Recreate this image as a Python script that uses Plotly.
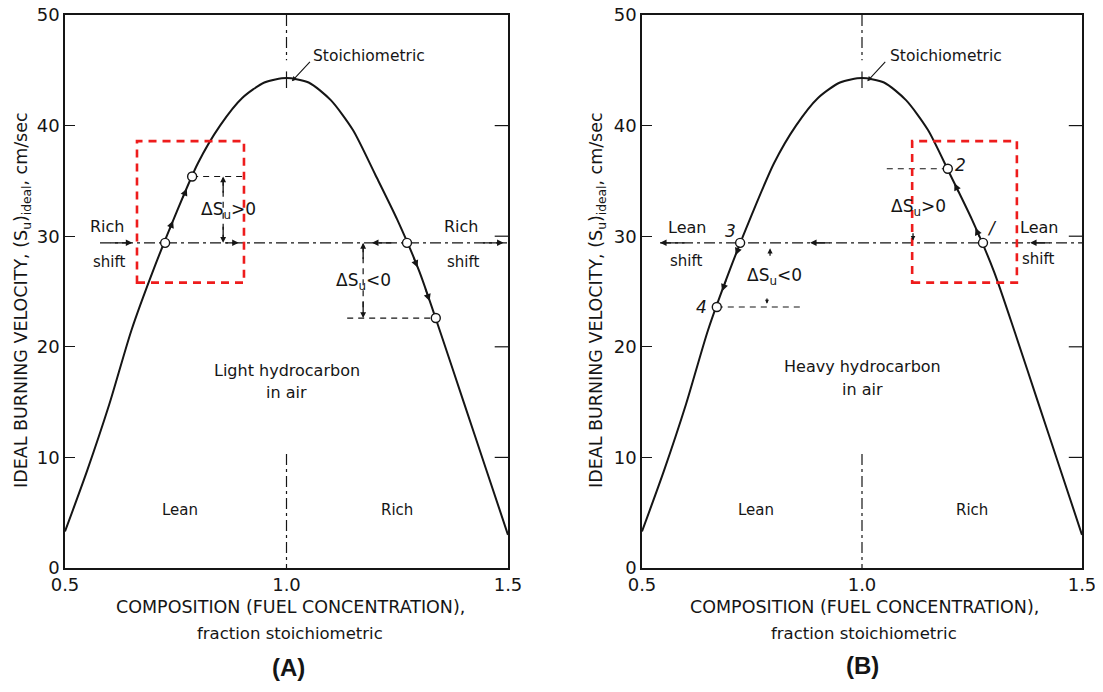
import numpy as np
import plotly.graph_objects as go

# ---------------- data ----------------
comp = [0.50, 0.55, 0.60, 0.65, 0.70, 0.75, 0.80, 0.85, 0.90, 0.95, 1.00,
        1.05, 1.10, 1.15, 1.20, 1.25, 1.30, 1.35, 1.40, 1.45, 1.50]
su_ideal = [3.3, 8.8, 14.8, 21.5, 27.0, 32.0, 36.6, 40.0, 42.5, 43.9, 44.3,
            43.9, 42.3, 39.6, 35.6, 31.5, 26.8, 21.0, 15.0, 9.0, 3.0]

y_ticks = [0, 10, 20, 30, 40, 50]
x_ticks = [0.5, 1.0, 1.5]
x_ticktext = ["0.5", "1.0", "1.5"]

shift_level = 29.4

# panel A states
ptsA_x = [0.726, 0.787, 1.272, 1.337]
ptsA_y = [29.4, 35.4, 29.4, 22.6]
# panel B states 1..4
ptsB_x = [1.275, 1.195, 0.723, 0.670]
ptsB_y = [29.4, 36.1, 29.4, 23.6]
ptsB_lbl = ["/", "2", "3", "4"]

boxA = [0.6625, 0.904, 25.8, 38.6]
boxB = [1.114, 1.352, 25.8, 38.6]

# ---------------- figure ----------------
OFF = 8                      # page body margin
FW, FH = 1103 - 2 * OFF, 692 - 2 * OFF


def px(p):
    return (p - OFF) / FW


def py(p):
    return 1 - (p - OFF) / FH


domA = [px(65), px(508)]
domB = [px(642), px(1082)]
domY = [py(568), py(15)]

BLK = "#151515"
FONT = "DejaVu Sans, Liberation Sans, sans-serif"
BOLD = "Liberation Sans, Arial, sans-serif"
DASHDOT = "11px,4px,3px,4px"
DASH = "6px,5px"

fig = go.Figure()
ann = []
shapes = []


def line(xs, ys, ax, dash="solid", width=1.4, color=BLK, spline=False):
    ln = dict(color=color, width=width, dash=dash)
    if spline:
        ln.update(shape="spline", smoothing=0.7)
    fig.add_trace(go.Scatter(x=xs, y=ys, mode="lines", xaxis=ax[0], yaxis=ax[1],
                             line=ln, hoverinfo="skip", showlegend=False))


def arrow(x, y, tx, ty, ax, size=1.0, width=1.3):
    ann.append(dict(x=x, y=y, ax=tx, ay=ty, xref=ax[0], yref=ax[1],
                    axref=ax[0], ayref=ax[1], showarrow=True, arrowhead=2,
                    arrowsize=size, arrowwidth=width, arrowcolor=BLK, text=""))


def text(x, y, s, ax, size=15, **kw):
    d = dict(x=x, y=y, xref=ax[0], yref=ax[1], text=s, showarrow=False,
             xanchor="center", yanchor="middle",
             font=dict(family=FONT, size=size, color=BLK))
    d.update(kw)
    ann.append(d)


def ptext(xp, yp, s, size, family=FONT, **kw):
    d = dict(x=px(xp), y=py(yp), xref="paper", yref="paper", text=s, showarrow=False,
             xanchor="center", yanchor="middle", font=dict(family=family, size=size, color=BLK))
    d.update(kw)
    ann.append(d)


def along(x0, x1):
    """arrow point on curve at x1 with tail at x0 (both on the curve)"""
    return x1, float(np.interp(x1, comp, su_ideal)), x0, float(np.interp(x0, comp, su_ideal))


for axes in [("x", "y"), ("x2", "y2")]:
    line(comp, su_ideal, axes, width=2.0, spline=True)
    line([1.0, 1.0], [50, 45.9], axes, dash=DASHDOT, width=1.2)
    line([1.0, 1.0], [44.9, 43.4], axes, width=1.2)
    line([1.0, 1.0], [10.3, 0], axes, dash=DASHDOT, width=1.2)
    for v in y_ticks[1:-1]:
        shapes.append(dict(type="line", xref=axes[0] + " domain", yref=axes[1],
                           x0=0.97, x1=1.0, y0=v, y1=v, line=dict(color=BLK, width=1.2)))
    text(1.0 + (0.187 if axes[0] == "x" else 0.192), 46.3, "Stoichiometric", axes, size=15.5)
    ann.append(dict(x=1.012, y=44.0, ax=1.056, ay=45.9, xref=axes[0], yref=axes[1],
                    axref=axes[0], ayref=axes[1], showarrow=True, arrowhead=2,
                    arrowsize=0.9, arrowwidth=1.1, arrowcolor=BLK, text=""))
    text(0.76, 5.2, "Lean", axes, size=15)
    text(1.25, 5.2, "Rich", axes, size=15)

axA = ("x", "y")
axB = ("x2", "y2")

# ---------- Panel A ----------
line([0.579, 1.5], [shift_level, shift_level], axA, dash=DASHDOT, width=1.4)
arrow(0.652, shift_level, 0.60, shift_level, axA)
arrow(0.892, shift_level, 0.86, shift_level, axA)
arrow(1.193, shift_level, 1.24, shift_level, axA)
arrow(1.49, shift_level, 1.44, shift_level, axA)
# delta S > 0
line([ptsA_x[1], 0.90], [ptsA_y[1], ptsA_y[1]], axA, dash=DASH, width=1.2)
line([0.857, 0.857], [ptsA_y[1] - 0.3, shift_level + 0.3], axA, dash=DASH, width=1.2)
arrow(0.857, ptsA_y[1], 0.857, ptsA_y[1] - 1.6, axA, size=0.9)
arrow(0.857, shift_level, 0.857, shift_level + 1.6, axA, size=0.9)
text(0.868, 32.3, "ΔS<sub>u</sub>>0", axA, size=17)
# delta S < 0
line([1.137, ptsA_x[3]], [ptsA_y[3], ptsA_y[3]], axA, dash=DASH, width=1.2)
line([1.173, 1.173], [shift_level - 0.3, ptsA_y[3] + 0.3], axA, dash=DASH, width=1.2)
arrow(1.173, shift_level, 1.173, shift_level - 1.6, axA, size=0.9)
arrow(1.173, ptsA_y[3], 1.173, ptsA_y[3] + 1.6, axA, size=0.9)
text(1.173, 25.9, "ΔS<sub>u</sub><0", axA, size=17)
for a, b in [(0.735, 0.744), (0.765, 0.775), (1.285, 1.296), (1.312, 1.323)]:
    x1, y1, x0, y0 = along(a, b)
    arrow(x1, y1, x0, y0, axA, size=1.1)
text(0.597, 30.9, "Rich", axA, size=16)
text(0.600, 27.7, "shift", axA, size=15)
text(1.396, 30.9, "Rich", axA, size=16)
text(1.400, 27.7, "shift", axA, size=15)
text(1.0, 17.9, "Light hydrocarbon", axA, size=16)
text(1.0, 15.9, "in air", axA, size=16)

# ---------- Panel B ----------
line([0.541, 1.5], [shift_level, shift_level], axB, dash=DASHDOT, width=1.4)
arrow(0.541, shift_level, 0.60, shift_level, axB)
arrow(0.882, shift_level, 0.93, shift_level, axB)
arrow(1.382, shift_level, 1.43, shift_level, axB)
line([ptsB_x[1], 1.045], [ptsB_y[1], ptsB_y[1]], axB, dash=DASH, width=1.2)
line([ptsB_x[3], 0.866], [ptsB_y[3], ptsB_y[3]], axB, dash=DASH, width=1.2)
arrow(0.791, shift_level - 0.5, 0.791, shift_level - 1.3, axB, size=0.8)
arrow(0.784, ptsB_y[3] + 0.3, 0.784, ptsB_y[3] + 0.9, axB, size=0.6)
arrow(1.116, shift_level + 0.2, 1.116, shift_level + 1.0, axB, size=0.7)
text(1.128, 32.6, "ΔS<sub>u</sub>>0", axB, size=17)
text(0.800, 26.4, "ΔS<sub>u</sub><0", axB, size=17)
for a, b in [(0.722, 0.713), (0.692, 0.682), (1.268, 1.258), (1.222, 1.210)]:
    x1, y1, x0, y0 = along(a, b)
    arrow(x1, y1, x0, y0, axB, size=1.1)
text(0.602, 30.8, "Lean", axB, size=16)
text(0.602, 27.8, "shift", axB, size=15)
text(1.402, 30.8, "Lean", axB, size=16)
text(1.402, 27.9, "shift", axB, size=15)
text(1.0, 18.2, "Heavy hydrocarbon", axB, size=16)
text(1.0, 16.1, "in air", axB, size=16)
lbl_dx = [0.02, 0.028, -0.022, -0.034]
lbl_dy = [1.3, 0.3, 1.1, 0.0]
for i in range(4):
    text(ptsB_x[i] + lbl_dx[i], ptsB_y[i] + lbl_dy[i], "<i>" + ptsB_lbl[i] + "</i>", axB, size=17)

fig.add_trace(go.Scatter(x=ptsA_x, y=ptsA_y, mode="markers", xaxis="x", yaxis="y",
                         marker=dict(size=9, color="white", line=dict(color=BLK, width=1.4)),
                         hoverinfo="skip", showlegend=False))
fig.add_trace(go.Scatter(x=ptsB_x, y=ptsB_y, mode="markers", xaxis="x2", yaxis="y2",
                         marker=dict(size=9, color="white", line=dict(color=BLK, width=1.4)),
                         hoverinfo="skip", showlegend=False))

for bx, ax in [(boxA, axA), (boxB, axB)]:
    shapes.append(dict(type="rect", xref=ax[0], yref=ax[1], x0=bx[0], x1=bx[1], y0=bx[2], y1=bx[3],
                       line=dict(color="#ee1c1c", width=2.6, dash="8px,6px")))

ytitle = "IDEAL BURNING VELOCITY, (S<sub>u</sub>)<sub>ideal</sub>, cm/sec"
for xc, xt in [(290, 22), (864, 597)]:
    ptext(xt, 300, ytitle, 17.5, textangle=-90)
    ptext(xc, 607, "COMPOSITION (FUEL CONCENTRATION),", 17.5)
    ptext(xc, 633, "fraction stoichiometric", 16.5)
ptext(288, 667, "<b>(A)</b>", 24, family=BOLD)
ptext(862, 665, "<b>(B)</b>", 24, family=BOLD)

xax = dict(range=[0.5, 1.5], tickvals=x_ticks, ticktext=x_ticktext, ticks="", showgrid=False,
           zeroline=False, showline=True, linecolor=BLK, linewidth=1.6, mirror=True,
           automargin=False, ticklabeloverflow="allow",
           tickfont=dict(family=FONT, size=18, color=BLK), fixedrange=True)
yax = dict(range=[0, 50], tickvals=y_ticks, ticks="inside", ticklen=10, tickwidth=1.3, tickcolor=BLK,
           showgrid=False, zeroline=False, showline=True, linecolor=BLK, linewidth=1.6, mirror=True,
           automargin=False, ticklabeloverflow="allow",
           tickfont=dict(family=FONT, size=18, color=BLK), fixedrange=True)

fig.update_layout(
    width=FW, height=FH, margin=dict(l=0, r=0, t=0, b=0, autoexpand=False),
    paper_bgcolor="white", plot_bgcolor="white", showlegend=False,
    xaxis=dict(domain=domA, anchor="y", **xax),
    yaxis=dict(domain=domY, anchor="x", **yax),
    xaxis2=dict(domain=domB, anchor="y2", **xax),
    yaxis2=dict(domain=domY, anchor="x2", **yax),
    annotations=ann, shapes=shapes,
)

fig.write_html("out.html")
